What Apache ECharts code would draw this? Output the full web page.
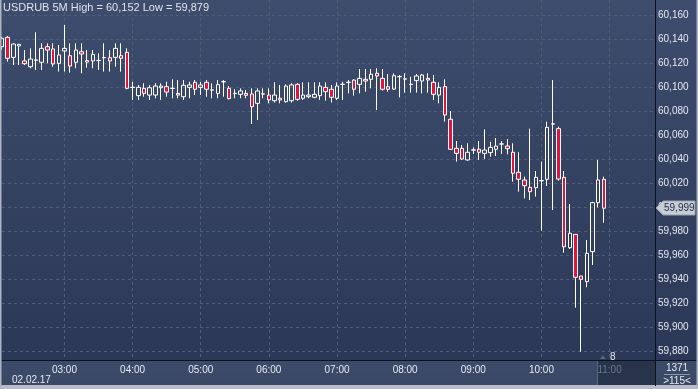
<!DOCTYPE html>
<html>
<head>
<meta charset="utf-8">
<script src="https://cdn.jsdelivr.net/npm/echarts@6/dist/echarts.min.js"></script>
<style>
html,body{margin:0;padding:0;background:#2c3959;}
#c{width:698px;height:389px;}
</style>
</head>
<body>
<div id="c"></div>
<script>
// 5-minute categories, 02.02.17
const times = ["02:05","02:10","02:15","02:20","02:25","02:30","02:35","02:40","02:45","02:50","02:55",
"03:00","03:05","03:10","03:15","03:20","03:25","03:30","03:35","03:40","03:45","03:50","03:55",
"04:00","04:05","04:10","04:15","04:20","04:25","04:30","04:35","04:40","04:45","04:50","04:55",
"05:00","05:05","05:10","05:15","05:20","05:25","05:30","05:35","05:40","05:45","05:50","05:55",
"06:00","06:05","06:10","06:15","06:20","06:25","06:30","06:35","06:40","06:45","06:50","06:55",
"07:00","07:05","07:10","07:15","07:20","07:25","07:30","07:35","07:40","07:45","07:50","07:55",
"08:00","08:05","08:10","08:15","08:20","08:25","08:30","08:35","08:40","08:45","08:50","08:55",
"09:00","09:05","09:10","09:15","09:20","09:25","09:30","09:35","09:40","09:45","09:50","09:55",
"10:00","10:05","10:10","10:15","10:20","10:25","10:30","10:35","10:40","10:45","10:50","10:55",
"11:00","11:05","11:10","11:15","11:20","11:25","11:30","11:35","11:40"];

const open = [60133.6,60141.4,60124.7,60134.2,60121.7,60116.9,60122.3,60120.6,60133.6,60131.7,60119.7,
60130.0,60126.1,60120.6,60129.4,60122.0,60121.7,60122.0,60124.4,60124.4,60124.7,60126.1,60128.9,
60099.6,60092.8,60098.9,60093.3,60093.3,60099.4,60100.3,60098.8,60094.7,60091.9,60099.7,60103.9,
60099.7,60103.9,60097.4,60094.7,60104.3,60098.9,60094.6,60093.9,60094.7,60094.2,60086.4,60094.1,
60093.3,60088.6,60090.6,60087.8,60088.6,60102.2,60090.6,60091.9,60091.4,60092.8,60099.7,60098.1,
60090.6,60102.1,60103.8,60105.8,60102.2,60106.4,60106.4,60111.4,60107.2,60100.3,60098.3,60108.5,
60106.6,60102.1,60105.3,60105.0,60107.2,60103.9,60093.3,60100.3,60073.1,60048.9,60048.9,60039.2,
60047.4,60048.1,60044.7,60045.3,60048.1,60052.4,60050.8,60045.6,60028.9,60022.5,60016.4,60016.1,
60021.8,60023.1,60069.1,60065.3,60024.7,59966.1,59977.2,59942.5,59937.8,59962.8,60003.6,60023.1];

const close = [60140.6,60123.9,60135.8,60135.6,60119.4,60123.3,60122.6,60132.2,60130.8,60119.2,60126.7,
60132.2,60117.5,60130.8,60127.5,60120.8,60127.2,60122.2,60124.6,60121.7,60132.2,60123.9,60098.9,
60099.8,60099.7,60094.7,60099.4,60100.8,60100.8,60095.8,60099.0,60093.3,60101.4,60101.7,60098.1,
60101.7,60098.1,60097.6,60102.0,60104.5,60090.3,60094.8,60096.7,60093.1,60083.6,60096.7,60094.3,
60089.2,60093.3,60089.2,60100.8,60101.7,60089.7,60093.3,60093.3,60093.9,60100.8,60096.1,60091.4,
60100.8,60102.3,60104.0,60098.1,60107.2,60105.0,60110.6,60109.2,60098.1,60098.1,60109.4,60108.7,
60106.8,60102.3,60109.2,60110.0,60105.8,60093.9,60099.7,60076.7,60048.1,60044.7,60040.0,60045.6,
60047.6,60045.6,60047.5,60049.7,60050.8,60052.6,60048.6,60028.1,60023.1,60017.8,60012.8,60024.7,
60022.0,60066.4,60069.3,60023.3,59966.9,59978.1,59941.4,59939.7,59961.4,60003.6,60022.5,59999.0];

const low = [60131.0,60121.1,60118.3,60118.3,60118.3,60115.6,60114.2,60114.2,60119.7,60116.9,60112.8,
60112.8,60112.0,60115.6,60111.4,60116.1,60115.6,60114.2,60112.8,60112.8,60116.9,60112.8,60098.1,
60089.2,60089.2,60091.9,60089.2,60090.6,60089.2,60091.9,60090.6,60090.6,60089.2,60090.6,60093.3,
60093.3,60091.9,60090.6,60090.6,60091.9,60089.7,60090.6,60090.6,60090.6,60069.2,60072.5,60090.6,
60086.4,60087.0,60086.4,60087.0,60087.0,60088.6,60089.2,60090.6,60090.6,60089.2,60088.6,60087.0,
60089.2,60089.2,60094.7,60092.8,60094.7,60096.1,60098.9,60080.8,60097.0,60096.1,60097.5,60091.4,
60095.3,60095.3,60095.3,60094.7,60095.3,60089.2,60086.4,60071.1,60047.5,60037.8,60039.2,60038.6,
60044.2,60039.2,60040.0,60041.9,60042.5,60044.2,60043.9,60021.1,60012.8,60007.2,60005.8,60008.6,
59980.3,60017.5,59997.5,60021.9,59961.9,59965.0,59916.1,59879.4,59933.1,59951.7,59999.7,59986.9];

const high = [60142.0,60142.5,60136.4,60135.6,60130.8,60132.2,60145.6,60136.4,60136.4,60136.4,60135.0,
60151.7,60136.4,60136.4,60136.4,60130.8,60130.8,60128.1,60136.4,60130.8,60136.4,60136.4,60132.2,
60104.4,60101.7,60103.1,60101.7,60103.1,60103.1,60104.4,60106.4,60105.8,60105.8,60104.4,60105.8,
60104.4,60105.8,60103.1,60105.8,60105.8,60100.8,60098.1,60098.9,60097.5,60098.9,60098.9,60098.9,
60098.9,60103.9,60101.7,60102.2,60103.1,60103.1,60103.9,60103.9,60103.9,60103.9,60103.9,60101.7,
60103.9,60104.4,60105.8,60106.4,60115.0,60115.0,60115.0,60115.6,60115.0,60110.8,60111.4,60110.0,
60111.4,60108.6,60110.8,60110.8,60111.4,60110.0,60103.9,60106.4,60080.0,60055.0,60051.7,60053.1,
60049.7,60055.0,60064.7,60054.4,60057.5,60055.0,60056.7,60053.1,60045.6,60025.3,60065.3,60030.0,
60037.8,60071.1,60105.8,60067.0,60030.0,60002.5,59977.5,59942.5,59972.5,60004.4,60039.2,60025.3];

const yMin = 59872.5, yMax = 60172.5;

const fmt = v => Math.round(v).toLocaleString('en-US');
const candles = open.map((o, i) => [o, close[i], low[i], high[i]]);
const hi = Math.max(...high), lo = Math.min(...low);
const FONT = 'Liberation Sans, Arial, sans-serif';
const TXT = '#e6e9ef';
const GRIDC = '#4f5d79';

const chart = echarts.init(document.getElementById('c'), null, {renderer: 'canvas'});
chart.setOption({
  animation: false,
  backgroundColor: {
    type: 'linear', x: 0, y: 0, x2: 0, y2: 1,
    colorStops: [
      {offset: 0, color: '#3e4c6d'},
      {offset: 0.925, color: '#2b3857'},
      {offset: 0.9265, color: '#3d4b6a'},
      {offset: 0.99, color: '#3a4866'},
      {offset: 0.991, color: '#b7bdc8'},
      {offset: 1, color: '#b7bdc8'}
    ]
  },
  title: {
    text: 'USDRUB 5M High = ' + fmt(hi) + ' Low = ' + fmt(lo),
    left: 3, top: 2, padding: 0,
    textStyle: {color: '#dfe3ea', fontSize: 11, fontWeight: 'normal', fontFamily: FONT}
  },
  grid: {left: 2, right: 43, top: 0, bottom: 29, containLabel: false},
  xAxis: {
    type: 'category', data: times, boundaryGap: false,
    axisLine: {show: true, lineStyle: {color: '#0c111c', width: 1}},
    axisTick: {show: false},
    axisLabel: {
      interval: (i, v) => v.endsWith(':00'),
      color: v => (v === '11:00' ? '#6c778c' : TXT),
      fontSize: 10, fontFamily: FONT, margin: 5
    },
    splitLine: {show: true, interval: (i, v) => v.endsWith(':00'), lineStyle: {color: GRIDC, type: [3, 3], width: 1}}
  },
  yAxis: {
    type: 'value', position: 'right', min: yMin, max: yMax, splitNumber: 15, minInterval: 20, maxInterval: 20,
    axisLine: {show: true, lineStyle: {color: '#0c111c', width: 1}},
    axisTick: {show: false},
    axisLabel: {showMinLabel: false, showMaxLabel: false, color: TXT, fontSize: 10, fontFamily: FONT, margin: 3, formatter: v => fmt(v)},
    splitLine: {show: true, showMinLine: false, showMaxLine: false, lineStyle: {color: GRIDC, type: [3, 3], width: 1}}
  },
  series: [{
    type: 'candlestick', data: candles, barWidth: 4, clip: true,
    itemStyle: {color: 'rgba(0,0,0,0)', color0: '#e2143c', borderColor: '#ffffff', borderColor0: '#ffffff', borderColorDoji: '#ffffff', borderWidth: 1}
  }]
});

// overlay annotations placed through the chart's own scales
const last = close.length - 1;
const pPrice = chart.convertToPixel({xAxisIndex: 0, yAxisIndex: 0}, [last, close[last]]);
const p1050 = chart.convertToPixel({xAxisIndex: 0, yAxisIndex: 0}, [times.indexOf('10:50'), yMin]);
const pLast = chart.convertToPixel({xAxisIndex: 0, yAxisIndex: 0}, [last, yMin]);
const W = 698, H = 389;
const axX = W - 43, axY = H - 29;
const py = Math.round(pPrice[1]);
const boxL = Math.round(p1050[0]) - 1;

chart.setOption({
  graphic: [
    {type: 'rect', z: -1, shape: {x: boxL, y: axY + 1, width: axX - boxL, height: 24}, style: {fill: '#28334c'}},
    {type: 'line', z: 5, shape: {x1: boxL + 0.5, y1: axY + 1, x2: boxL + 0.5, y2: axY + 25}, style: {stroke: '#5b6780', lineWidth: 1}},
    {type: 'line', z: 5, shape: {x1: axX + 0.5, y1: axY, x2: axX + 0.5, y2: H - 3}, style: {stroke: '#0c111c', lineWidth: 1}},
    {type: 'line', z: 5, shape: {x1: axX, y1: axY + 0.5, x2: W, y2: axY + 0.5}, style: {stroke: '#0c111c', lineWidth: 1}},
    {type: 'rect', z: 5, shape: {x: 0, y: 0, width: 1.5, height: H}, style: {fill: '#aeb5c2'}},
    {type: 'rect', z: 5, shape: {x: W - 1.5, y: 0, width: 1.5, height: H}, style: {fill: '#aeb5c2'}},
    {type: 'polygon', z: 6, shape: {points: [[axX + 1, py], [axX + 8, py - 7], [W - 3, py - 7], [W - 3, py + 7], [axX + 8, py + 7]]}, style: {fill: '#c8ccd5', stroke: '#9aa1ae', lineWidth: 1}},
    {type: 'text', z: 7, x: axX + 9, y: py, style: {text: fmt(close[last]), fill: '#1d2943', font: '10px ' + FONT, verticalAlign: 'middle'}},
    {type: 'polygon', z: 6, shape: {points: [[pLast[0] - 4, axY - 1], [pLast[0] - 1, axY - 5], [pLast[0] + 2, axY - 1]]}, style: {fill: '#59647a'}},
    {type: 'text', z: 7, x: pLast[0] + 6, y: axY - 8, style: {text: '8', fill: TXT, font: '10px ' + FONT, verticalAlign: 'top'}},
    {type: 'text', z: 7, x: 12, y: 375, style: {text: '02.02.17', fill: TXT, font: '10px ' + FONT, verticalAlign: 'top'}},
    {type: 'text', z: 7, x: 677, y: 363, style: {text: '1371', fill: TXT, font: '10px ' + FONT, align: 'center', verticalAlign: 'top'}},
    {type: 'line', z: 7, shape: {x1: 664, y1: 374.5, x2: 690, y2: 374.5}, style: {stroke: '#8c96a8', lineWidth: 1}},
    {type: 'text', z: 7, x: 677, y: 376, style: {text: '>115<', fill: TXT, font: '10px ' + FONT, align: 'center', verticalAlign: 'top'}}
  ]
});
</script>
</body>
</html>
